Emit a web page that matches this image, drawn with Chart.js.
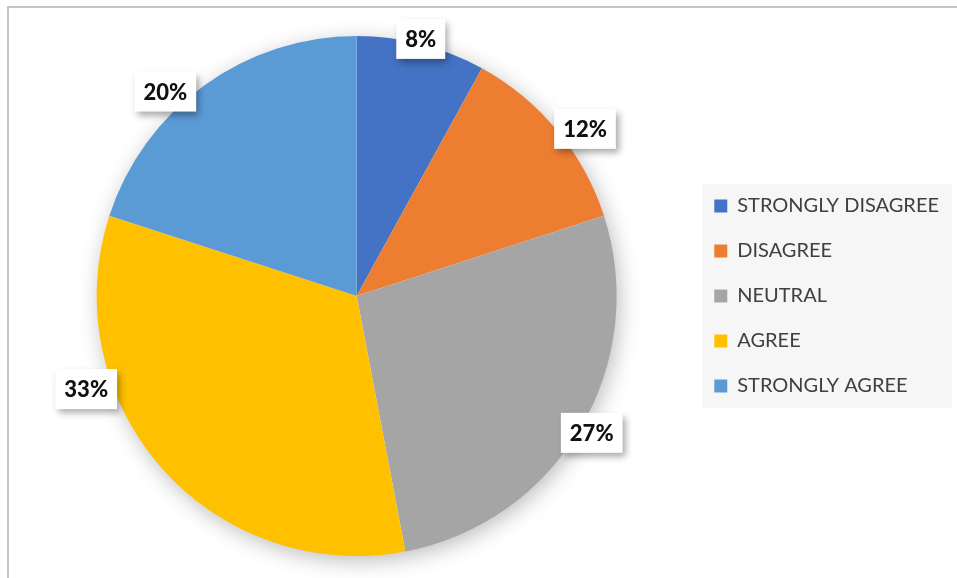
<!DOCTYPE html>
<html>
<head>
<meta charset="utf-8">
<script src="https://cdn.jsdelivr.net/npm/chart.js@4/dist/chart.umd.min.js"></script>
<style>
  body { margin: 0; background: #fff; }
  #wrap { position: relative; width: 957px; height: 578px; }
</style>
</head>
<body>
<div id="wrap"><canvas id="pieChart" width="957" height="578"></canvas></div>
<script>
// survey responses, share of answers in %
const categories = ["STRONGLY DISAGREE", "DISAGREE", "NEUTRAL", "AGREE", "STRONGLY AGREE"];
const shares = [8, 12, 27, 33, 20];
const sliceColors = ["#4472C4", "#ED7D31", "#A5A5A5", "#FFC000", "#5B9BD5"];

// labels were dragged around a bit in the original, so nudge them per slice
const labelShiftDeg = [-0.4, 3.4, -0.4, 22.4, -7.1];
const labelGapPx = [5, 23, 12, 26, 20];

const framePlugin = {
  id: "frame",
  beforeDraw(chart) {
    const ctx = chart.ctx;
    ctx.save();
    ctx.strokeStyle = "#c4c4c4";
    ctx.lineWidth = 2;
    ctx.beginPath();
    ctx.moveTo(8, chart.height);
    ctx.lineTo(8, 7);
    ctx.lineTo(chart.width, 7);
    ctx.stroke();

    // grey panel behind the legend
    const lg = chart.legend;
    if (lg && lg.legendHitBoxes && lg.legendHitBoxes.length) {
      const boxes = lg.legendHitBoxes;
      const first = boxes[0];
      const last = boxes[boxes.length - 1];
      let right = 0;
      boxes.forEach(b => { right = Math.max(right, b.left + b.width); });
      const top = first.top + first.height / 2 - 22;
      const bottom = last.top + last.height / 2 + 22;
      ctx.fillStyle = "#f6f6f6";
      ctx.fillRect(first.left - 12, top, right + 13 - (first.left - 12), bottom - top);
    }
    ctx.restore();
  }
};

const pieShadowPlugin = {
  id: "pieShadow",
  beforeDatasetsDraw(chart) {
    const arc = chart.getDatasetMeta(0).data[0];
    if (!arc) return;
    const { x, y, outerRadius } = arc.getProps(["x", "y", "outerRadius"], true);
    const ctx = chart.ctx;
    ctx.save();
    ctx.shadowColor = "rgba(0,0,0,0.28)";
    ctx.shadowBlur = 22;
    ctx.shadowOffsetX = 3;
    ctx.shadowOffsetY = 5;
    ctx.fillStyle = "#ffffff";
    ctx.beginPath();
    ctx.arc(x, y, outerRadius - 1, 0, Math.PI * 2);
    ctx.fill();
    ctx.restore();
  }
};

const percentLabelPlugin = {
  id: "percentLabels",
  afterDatasetsDraw(chart) {
    const ctx = chart.ctx;
    const data = chart.data.datasets[0].data;
    const total = data.reduce((a, b) => a + b, 0);
    ctx.save();
    ctx.font = "900 22px Lato";
    ctx.textAlign = "center";
    ctx.textBaseline = "middle";
    chart.getDatasetMeta(0).data.forEach((arc, i) => {
      const p = arc.getProps(["x", "y", "startAngle", "endAngle", "outerRadius"], true);
      const mid = (p.startAngle + p.endAngle) / 2 + labelShiftDeg[i] * Math.PI / 180;
      const r = p.outerRadius + labelGapPx[i];
      const cx = p.x + Math.cos(mid) * r;
      const cy = p.y + Math.sin(mid) * r;
      const text = Math.round(data[i] / total * 100) + "%";
      const w = ctx.measureText(text).width + 18;
      const h = 40;
      ctx.save();
      ctx.shadowColor = "rgba(0,0,0,0.35)";
      ctx.shadowBlur = 7;
      ctx.shadowOffsetX = 3;
      ctx.shadowOffsetY = 4;
      ctx.fillStyle = "#ffffff";
      ctx.fillRect(cx - w / 2, cy - h / 2, w, h);
      ctx.restore();
      ctx.fillStyle = "#111111";
      ctx.fillText(text, cx, cy + 1);
    });
    ctx.restore();
  }
};

new Chart(document.getElementById("pieChart"), {
  type: "pie",
  data: {
    labels: categories,
    datasets: [{
      data: shares,
      backgroundColor: sliceColors,
      borderWidth: 0
    }]
  },
  options: {
    responsive: false,
    animation: false,
    devicePixelRatio: 1,
    layout: { padding: { left: 24, right: 8, top: 36, bottom: 22 } },
    plugins: {
      tooltip: { enabled: false },
      legend: {
        position: "right",
        labels: {
          boxWidth: 13,
          boxHeight: 13,
          padding: 25,
          color: "#404040",
          font: { family: "Lato", size: 20 }
        }
      }
    }
  },
  plugins: [framePlugin, pieShadowPlugin, percentLabelPlugin]
});
</script>
</body>
</html>
